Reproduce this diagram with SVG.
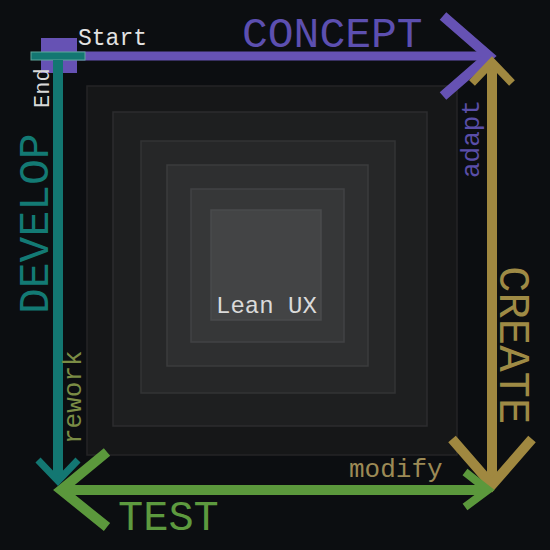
<svg xmlns="http://www.w3.org/2000/svg" width="550" height="550" viewBox="0 0 550 550">
<style>
text{font-family:"Liberation Mono","Courier New",monospace}
.sq{stroke-width:1.5}
.ln{fill:none;stroke-linecap:butt}
</style>
<rect x="0" y="0" width="550" height="550" fill="#0c0e11"/>
<g id="squares">
<rect class="sq" x="87" y="86" width="370" height="369" fill="#161718" stroke="#242526"/>
<rect class="sq" x="113" y="112" width="314" height="314" fill="#1e1f20" stroke="#2c2d2e"/>
<rect class="sq" x="141" y="141" width="254" height="252" fill="#262728" stroke="#333435"/>
<rect class="sq" x="167" y="165" width="201" height="201" fill="#2e2f30" stroke="#3b3c3d"/>
<rect class="sq" x="191" y="189" width="153" height="153" fill="#363738" stroke="#424344"/>
<rect class="sq" x="211" y="210" width="110" height="110" fill="#434445" stroke="#4a4b4c"/>
</g>
<g id="center"><text x="216" y="313" font-size="24" fill="#dadada">Lean UX</text></g>
<g id="connectors">
<g id="concept-arrow" stroke="#6652b4" class="ln">
<line x1="77" y1="56" x2="486" y2="56" stroke-width="9"/>
<polyline points="443,16 489,56 443,96" stroke-width="10"/>
</g>
<g id="create-arrow" stroke="#a08840" class="ln">
<line x1="492" y1="64" x2="492" y2="484" stroke-width="10"/>
<polyline points="472,83 492,62 512,83" stroke-width="8"/>
<polyline points="452,439 492,485 532,439" stroke-width="10"/>
</g>
<g id="test-arrow" stroke="#5b983c" class="ln">
<line x1="62" y1="490" x2="487" y2="490" stroke-width="10"/>
<polyline points="107,452 61,490 107,527" stroke-width="10"/>
<polyline points="465,472 488,490 465,507" stroke-width="8"/>
</g>
<g id="develop-arrow" stroke="#137772" class="ln">
<line x1="58" y1="60" x2="58" y2="480" stroke-width="10"/>
<polyline points="38,460 58,481 78,460" stroke-width="7"/>
</g>
</g>
<g id="start">
<rect x="41" y="38" width="36" height="35" fill="#6652b4"/>
<rect x="31" y="52" width="54" height="8" fill="#137772" stroke="#5fa89c" stroke-width="1"/>
<rect x="53" y="60" width="10" height="14" fill="#137772"/>
<text x="78" y="45" font-size="23" fill="#e2e2e2">Start</text>
<text transform="translate(49,108) rotate(-90)" font-size="22" fill="#d8d8d8">End</text>
</g>
<g id="concept"><text x="242" y="47" font-size="43" fill="#5c4fb0">CONCEPT</text></g>
<g id="create"><text transform="translate(500,266) rotate(90)" font-size="44" fill="#9e8a45">CREATE</text></g>
<g id="test"><text x="118" y="530" font-size="42" fill="#5d9a3f">TEST</text></g>
<g id="develop"><text transform="translate(48,314) rotate(-90)" font-size="43" fill="#137a74">DEVELOP</text></g>
<g id="adapt"><text transform="translate(479,178) rotate(-90)" font-size="26" fill="#5a4ea8">adapt</text></g>
<g id="modify"><text x="349" y="477" font-size="26" fill="#9c8a55">modify</text></g>
<g id="rework"><text transform="translate(81,444) rotate(-90)" font-size="26" fill="#7a8c45">rework</text></g>
</svg>
